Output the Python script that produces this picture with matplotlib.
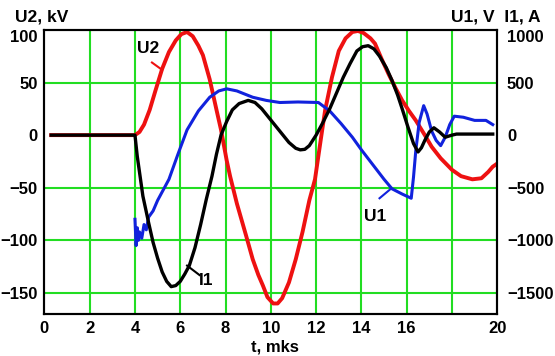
import matplotlib
matplotlib.use('Agg')
import matplotlib.pyplot as plt

plt.rcParams['font.family'] = ['Liberation Sans', 'DejaVu Sans']
plt.rcParams['font.weight'] = 'bold'

# U2, kV (left axis)
t_u2 = [0.3, 4.0, 4.2, 4.4, 4.65, 4.9, 5.2, 5.5, 5.8, 6.05, 6.3, 6.55, 6.8, 7.0,
        7.3, 7.6, 7.8, 8.05, 8.2, 8.5, 8.9, 9.2, 9.45, 9.65, 9.85, 10.1, 10.3,
        10.5, 10.8, 11.1, 11.4, 11.7, 11.95, 12.2, 12.4, 12.7, 13.0, 13.3, 13.6,
        13.85, 14.1, 14.4, 14.6, 14.9, 15.2, 15.5, 15.8, 16.1, 16.4, 16.8, 17.1,
        17.5, 18.0, 18.4, 18.9, 19.3, 19.6, 19.8, 20.0]
u2 = [0, 0, 3, 10, 24, 42, 63, 79, 90, 96, 98, 94, 85, 76,
      53, 24, 5, -24, -39, -65, -95, -118, -133, -143, -154, -160, -160,
      -155, -140, -118, -92, -62, -42, -5, 24, 55, 80, 92, 98,
      99, 97, 92, 87, 72, 58, 45, 33, 23, 14, 0, -11,
      -22, -33, -39, -42, -41, -35, -30, -27]

# U1, V (right axis)
t_u1 = [4.0, 4.05, 4.1, 4.15, 4.2, 4.3, 4.4, 4.5, 4.6, 4.8, 5.0, 5.25, 5.5, 5.9,
        6.3, 6.8, 7.3, 7.7, 8.05, 8.5, 9.2, 9.8, 10.4, 11.2, 12.1, 12.6, 13.1,
        13.6, 14.0, 14.5, 15.0, 15.35, 15.8, 16.2, 16.3, 16.4, 16.55, 16.75,
        16.9, 17.1, 17.3, 17.5, 17.7, 17.9, 18.1, 18.5, 19.0, 19.5, 19.8]
u1 = [-800, -1050, -880, -1000, -920, -980, -850, -900, -780, -720, -620, -520, -420, -180,
      50, 230, 360, 420, 440, 420, 360, 330, 310, 315, 310, 230, 110,
      -20, -140, -280, -420, -510, -560, -600, -400, -150, 120, 280,
      200, 40, -50, -100, -20, 100, 180, 170, 140, 140, 100]

# I1, A (right axis)
t_i1 = [0.3, 4.0, 4.1, 4.35, 4.6, 4.8, 5.0, 5.2, 5.4, 5.6, 5.8, 6.0, 6.2, 6.4,
        6.65, 6.9, 7.15, 7.4, 7.6, 7.8, 8.05, 8.3, 8.6, 9.0, 9.3, 9.6, 9.9,
        10.2, 10.5, 10.8, 11.1, 11.3, 11.5, 11.7, 12.0, 12.3, 12.6, 12.9, 13.2,
        13.5, 13.8, 14.05, 14.3, 14.55, 14.8, 15.1, 15.35, 15.6, 15.8, 16.05,
        16.3, 16.5, 16.65, 16.8, 17.0, 17.2, 17.45, 17.7, 18.0, 18.2, 19.0, 19.8]
i1 = [0, 0, -200, -580, -830, -1020, -1170, -1300, -1390, -1440, -1430, -1390, -1320, -1240,
      -1070, -850, -610, -390, -180, 0, 130, 240, 300, 330, 310, 250, 170,
      90, 10, -70, -125, -140, -135, -100, 0, 120, 250, 400, 550,
      680, 800, 840, 850, 820, 750, 640, 520, 380, 250, 80,
      -80, -160, -120, -50, 30, 70, 30, -20, 0, 10, 10, 10]

xticks = [0, 2, 4, 6, 8, 10, 12, 14, 16, 20]
yticks_left = [100, 50, 0, -50, -100, -150]
yticks_right = [1000, 500, 0, -500, -1000, -1500]
hgrid = [50, -50, -100, -150]
vgrid = [2, 4, 6, 8, 10, 12, 14, 16, 18]

green = '#22dd22'

fig = plt.figure(figsize=(5.55, 3.56), dpi=100)
ax = fig.add_axes([0.080, 0.118, 0.816, 0.798])
ax2 = ax.twinx()

for g in vgrid:
    ax.axvline(g, color=green, lw=1.5, zorder=0)
for g in hgrid:
    ax.axhline(g, color=green, lw=1.5, zorder=0)

ax.plot(t_u2, u2, color='#ee1111', lw=2.8, zorder=2)
ax2.plot(t_u1, u1, color='#1122dd', lw=2.2, zorder=2)
ax2.plot(t_i1, i1, color='black', lw=2.4, zorder=3)

ax.set_xlim(0, 20)
ax.set_ylim(-170, 100)
ax2.set_ylim(-1700, 1000)

ax.set_xticks(xticks)
ax.set_yticks(yticks_left)
ax2.set_yticks(yticks_right)
ax.tick_params(length=0, labelsize=12, pad=5)
ax2.tick_params(length=0, labelsize=12, pad=7)
# top labels sit just under the frame line
ax.get_yticklabels()[0].set_va('top')
ax2.get_yticklabels()[0].set_va('top')
for a in (ax, ax2):
    for s in a.spines.values():
        s.set_linewidth(1.5)

ax.set_xlabel('t, mks', fontsize=12, fontweight='bold', labelpad=0)
ax.xaxis.set_label_coords(0.51, -0.09)
fig.text(0.027, 0.953, 'U2, kV', fontsize=12.5, fontweight='bold', va='center')
fig.text(0.812, 0.953, 'U1, V  I1, A', fontsize=12.5, fontweight='bold', va='center')

# curve labels with small pointers
ax.text(4.1, 78, 'U2', fontsize=12.5, fontweight='bold')
ax.plot([4.75, 5.2], [69, 62], color='#ee1111', lw=1.5)
ax2.text(6.8, -1420, 'I1', fontsize=12.5, fontweight='bold')
ax2.plot([6.3, 6.85], [-1240, -1330], color='black', lw=1.5)
ax2.text(14.1, -820, 'U1', fontsize=12.5, fontweight='bold')
ax2.plot([14.8, 15.3], [-600, -510], color='#1122dd', lw=1.5)

fig.savefig('out.png', dpi=100)
